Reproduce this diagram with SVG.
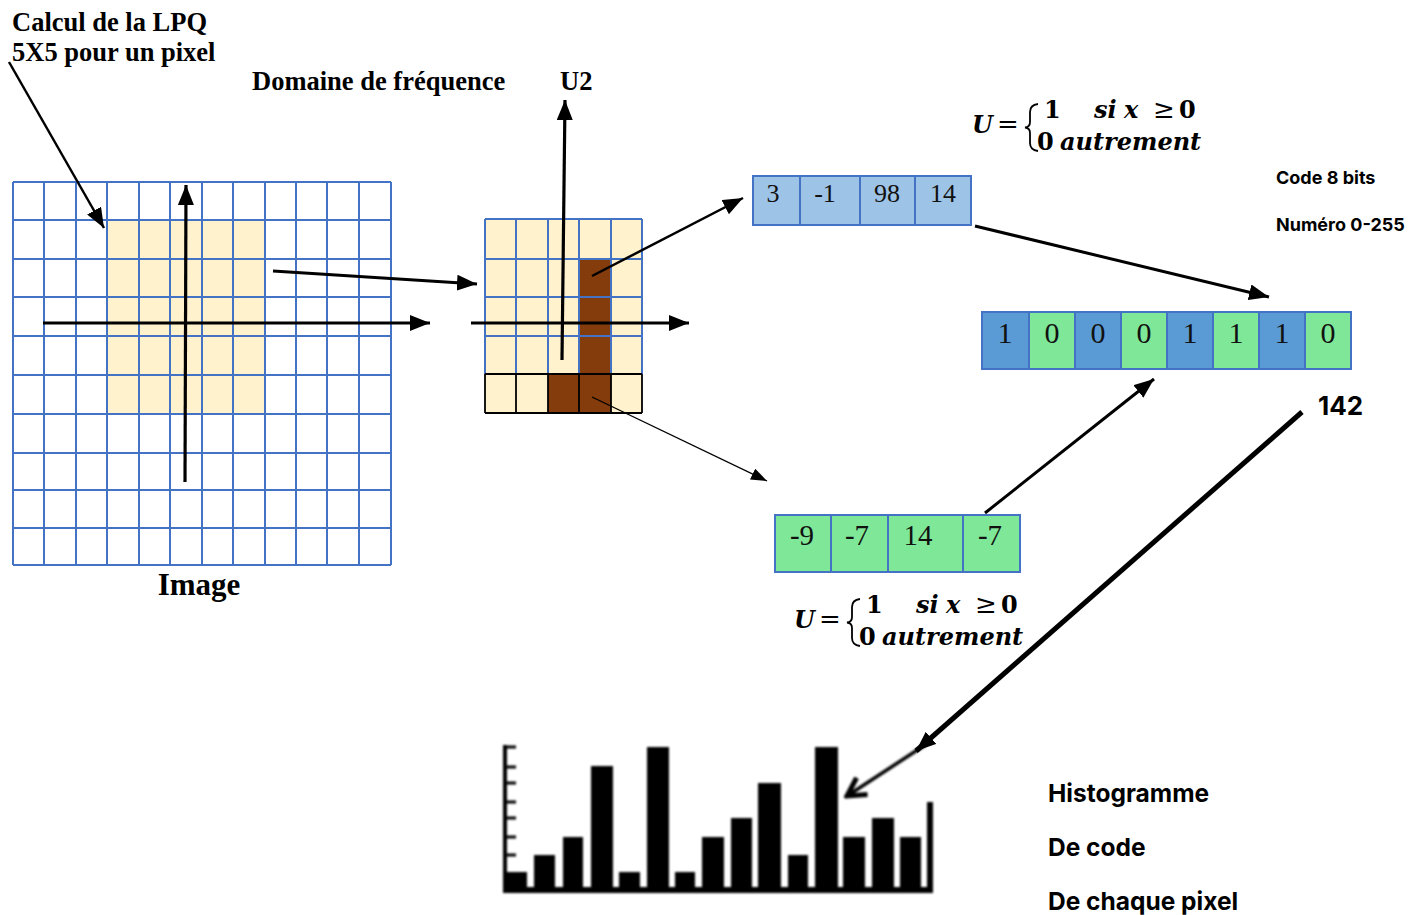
<svg xmlns="http://www.w3.org/2000/svg" width="1427" height="915" viewBox="0 0 1427 915">
  <style>
    .serif-b { font-family: "Liberation Serif", "Times New Roman", serif; font-weight: bold; fill: #000; }
    .serif { font-family: "Liberation Serif", "Times New Roman", serif; fill: #111; }
    .sans-b { font-family: Inter, "Liberation Sans", Arial, sans-serif; font-weight: 700; fill: #000; }
    .math-i { font-family: "DejaVu Serif", serif; font-weight: bold; font-style: italic; font-size: 24px; fill: #000; }
    .math-n { font-family: "DejaVu Serif", serif; font-weight: bold; font-size: 24px; fill: #000; }
    .math-o { font-family: "DejaVu Serif", serif; font-size: 26px; fill: #000; }
    .grid { stroke: #4472C4; stroke-width: 2; fill: none; }
    .grid-k { stroke: #000; stroke-width: 1.8; fill: none; }
    .cell-b { fill: #9DC3E6; stroke: #4472C4; stroke-width: 2; }
    .cell-g { fill: #7EE898; stroke: #4472C4; stroke-width: 2; }
    .bit-b { fill: #5B9BD5; stroke: #4472C4; stroke-width: 2; }
    .bit-g { fill: #7EE898; stroke: #4472C4; stroke-width: 2; }
    .ln { stroke: #000; fill: none; stroke-linecap: butt; }
  </style>
  <defs>
    <marker id="arr" viewBox="0 0 20 16" markerUnits="userSpaceOnUse" markerWidth="20" markerHeight="16" refX="20" refY="8" orient="auto">
      <path d="M0,0 L20,8 L0,16 z" fill="#000"/>
    </marker>
    <marker id="arr-s" viewBox="0 0 16 12" markerUnits="userSpaceOnUse" markerWidth="16" markerHeight="12" refX="16" refY="6" orient="auto">
      <path d="M0,0 L16,6 L0,12 z" fill="#000"/>
    </marker>
    <marker id="arr-open" viewBox="0 0 24 24" markerUnits="userSpaceOnUse" markerWidth="24" markerHeight="24" refX="21" refY="12" orient="auto">
      <path d="M3,2 L21,12 L3,22" fill="none" stroke="#000" stroke-width="5"/>
    </marker>
    <filter id="soft" x="-5%" y="-5%" width="110%" height="110%">
      <feGaussianBlur stdDeviation="1.1"/>
    </filter>
  </defs>

  <!-- titles -->
  <g id="title">
    <text class="serif-b" x="12" y="31" font-size="26.5">Calcul de la LPQ</text>
    <text class="serif-b" x="12" y="61" font-size="26.5">5X5 pour un pixel</text>
  </g>
  <text id="label-freq" class="serif-b" x="252" y="90" font-size="26.5">Domaine de fréquence</text>
  <text id="label-u2" class="serif-b" x="560" y="90" font-size="26.5">U2</text>

  <!-- image grid 12x10 with 5x5 neighbourhood -->
  <g id="image-grid">
    <rect x="107" y="220" width="158" height="194" fill="#FFF2CC"/>
    <path class="grid" d="M13,182V565 M44,182V565 M76,182V565 M107,182V565 M139,182V565 M170,182V565 M202,182V565 M233,182V565 M265,182V565 M296,182V565 M327,182V565 M359,182V565 M391,182V565
      M13,182H391 M13,220H391 M13,259H391 M13,297H391 M13,336H391 M13,375H391 M13,414H391 M13,453H391 M13,490H391 M13,528H391 M13,565H391"/>
    <text class="serif-b" x="199" y="595" font-size="31" text-anchor="middle">Image</text>
  </g>

  <!-- frequency-domain window -->
  <g id="freq-grid">
    <rect x="485" y="219" width="157" height="194" fill="#FFF2CC"/>
    <rect x="579" y="259" width="32" height="154" fill="#843C0C"/>
    <rect x="548" y="374" width="31" height="39" fill="#843C0C"/>
    <path class="grid" d="M485,219V374 M516,219V374 M548,219V374 M579,219V374 M611,219V374 M642,219V374
      M485,219H642 M485,259H642 M485,297H642 M485,336H642 M485,374H642"/>
    <path class="grid-k" d="M485,374V413 M516,374V413 M548,374V413 M579,374V413 M611,374V413 M642,374V413 M485,374H642 M485,413H642"/>
  </g>

  <!-- real-part coefficients -->
  <g id="coef-real">
    <rect class="cell-b" x="753" y="176" width="47" height="49"/>
    <rect class="cell-b" x="800" y="176" width="60" height="49"/>
    <rect class="cell-b" x="860" y="176" width="55" height="49"/>
    <rect class="cell-b" x="915" y="176" width="56" height="49"/>
    <text class="serif" font-size="26" x="773" y="202" text-anchor="middle">3</text>
    <text class="serif" font-size="26" x="825" y="202" text-anchor="middle">-1</text>
    <text class="serif" font-size="26" x="887" y="202" text-anchor="middle">98</text>
    <text class="serif" font-size="26" x="943" y="202" text-anchor="middle">14</text>
  </g>

  <!-- imaginary-part coefficients -->
  <g id="coef-imag">
    <rect class="cell-g" x="775" y="515" width="56" height="57"/>
    <rect class="cell-g" x="831" y="515" width="57" height="57"/>
    <rect class="cell-g" x="888" y="515" width="75" height="57"/>
    <rect class="cell-g" x="963" y="515" width="57" height="57"/>
    <text class="serif" font-size="29" x="802" y="545" text-anchor="middle">-9</text>
    <text class="serif" font-size="29" x="857" y="545" text-anchor="middle">-7</text>
    <text class="serif" font-size="29" x="918" y="545" text-anchor="middle">14</text>
    <text class="serif" font-size="29" x="990" y="545" text-anchor="middle">-7</text>
  </g>

  <!-- quantisation rule -->
  <g id="rule-real">
    <text class="math-i" x="972" y="133">U</text>
    <text class="math-o" x="997" y="133">=</text>
    <path d="M1038,104 Q1030,105 1030,112 V122 Q1030,127 1025,127.5 Q1030,128 1030,133 V143 Q1030,150 1038,151" fill="none" stroke="#000" stroke-width="1.8"/>
    <text class="math-n" x="1044" y="118">1</text>
    <text class="math-i" x="1094" y="118">si</text>
    <text class="math-i" x="1124" y="118">x</text>
    <text class="math-o" x="1153" y="118">≥</text>
    <text class="math-n" x="1179" y="118">0</text>
    <text class="math-n" x="1037" y="150">0</text>
    <text class="math-i" x="1060" y="150">autrement</text>
  </g>
  <g id="rule-imag" transform="translate(-178,495)">
    <text class="math-i" x="972" y="133">U</text>
    <text class="math-o" x="997" y="133">=</text>
    <path d="M1038,104 Q1030,105 1030,112 V122 Q1030,127 1025,127.5 Q1030,128 1030,133 V143 Q1030,150 1038,151" fill="none" stroke="#000" stroke-width="1.8"/>
    <text class="math-n" x="1044" y="118">1</text>
    <text class="math-i" x="1094" y="118">si</text>
    <text class="math-i" x="1124" y="118">x</text>
    <text class="math-o" x="1153" y="118">≥</text>
    <text class="math-n" x="1179" y="118">0</text>
    <text class="math-n" x="1037" y="150">0</text>
    <text class="math-i" x="1060" y="150">autrement</text>
  </g>

  <g id="code-info">
    <text class="sans-b" x="1276" y="184" font-size="18">Code 8 bits</text>
    <text class="sans-b" x="1276" y="231" font-size="18">Numéro 0-255</text>
  </g>

  <!-- 8-bit code -->
  <g id="bits">
    <rect class="bit-b" x="982" y="312" width="47" height="57"/>
    <rect class="bit-g" x="1029" y="312" width="46" height="57"/>
    <rect class="bit-b" x="1075" y="312" width="46" height="57"/>
    <rect class="bit-g" x="1121" y="312" width="46" height="57"/>
    <rect class="bit-b" x="1167" y="312" width="46" height="57"/>
    <rect class="bit-g" x="1213" y="312" width="46" height="57"/>
    <rect class="bit-b" x="1259" y="312" width="46" height="57"/>
    <rect class="bit-g" x="1305" y="312" width="46" height="57"/>
    <g class="serif" font-size="30" text-anchor="middle">
      <text x="1005" y="343">1</text>
      <text x="1052" y="343">0</text>
      <text x="1098" y="343">0</text>
      <text x="1144" y="343">0</text>
      <text x="1190" y="343">1</text>
      <text x="1236" y="343">1</text>
      <text x="1282" y="343">1</text>
      <text x="1328" y="343">0</text>
    </g>
  </g>

  <text id="value" class="sans-b" x="1318" y="415" font-size="26">142</text>

  <!-- code histogram -->
  <g id="histogram" filter="url(#soft)" fill="#000">
    <rect x="503" y="745" width="4" height="148"/>
    <path d="M505,747H516 M505,767H516 M505,783H516 M505,802H516 M505,818H516 M505,837H516 M505,855H516" stroke="#000" stroke-width="3"/>
    <rect x="503" y="887" width="430" height="6"/>
    <rect x="503" y="872" width="24" height="18"/>
    <rect x="534" y="855" width="21" height="35"/>
    <rect x="563" y="837" width="20" height="53"/>
    <rect x="591" y="766" width="22" height="124"/>
    <rect x="619" y="872" width="21" height="18"/>
    <rect x="647" y="747" width="22" height="143"/>
    <rect x="675" y="872" width="20" height="18"/>
    <rect x="702" y="837" width="22" height="53"/>
    <rect x="731" y="818" width="21" height="72"/>
    <rect x="758" y="783" width="23" height="107"/>
    <rect x="788" y="855" width="20" height="35"/>
    <rect x="815" y="747" width="23" height="143"/>
    <rect x="843" y="837" width="22" height="53"/>
    <rect x="872" y="818" width="22" height="72"/>
    <rect x="900" y="837" width="21" height="53"/>
    <rect x="927" y="802" width="6" height="88"/>
    <line class="ln" x1="925" y1="745" x2="847" y2="796" stroke-width="3.5" marker-end="url(#arr-open)"/>
  </g>

  <g id="hist-caption">
    <text class="sans-b" x="1048" y="802" font-size="24.5">Histogramme</text>
    <text class="sans-b" x="1048" y="856" font-size="24.5">De code</text>
    <text class="sans-b" x="1048" y="910" font-size="24.5">De chaque pixel</text>
  </g>

  <!-- connectors -->
  <g id="connectors">
    <line class="ln" x1="9" y1="62" x2="104" y2="228" stroke-width="2.5" marker-end="url(#arr)"/>
    <line class="ln" x1="43" y1="323" x2="430" y2="323" stroke-width="3.2" marker-end="url(#arr)"/>
    <line class="ln" x1="185" y1="482" x2="186" y2="185" stroke-width="3.2" marker-end="url(#arr)"/>
    <line class="ln" x1="273" y1="271" x2="477" y2="284" stroke-width="3" marker-end="url(#arr)"/>
    <line class="ln" x1="471" y1="323" x2="689" y2="323" stroke-width="3.2" marker-end="url(#arr)"/>
    <line class="ln" x1="562" y1="360" x2="565" y2="100" stroke-width="3.2" marker-end="url(#arr)"/>
    <line class="ln" x1="592" y1="276" x2="743" y2="198" stroke-width="2.5" marker-end="url(#arr)"/>
    <line class="ln" x1="592" y1="397" x2="767" y2="481" stroke-width="1.3" marker-end="url(#arr-s)"/>
    <line class="ln" x1="975" y1="226" x2="1269" y2="297" stroke-width="3" marker-end="url(#arr)"/>
    <line class="ln" x1="985" y1="513" x2="1154" y2="379" stroke-width="3" marker-end="url(#arr)"/>
    <line class="ln" x1="1302" y1="412" x2="916" y2="751" stroke-width="5" marker-end="url(#arr)"/>
  </g>
</svg>
